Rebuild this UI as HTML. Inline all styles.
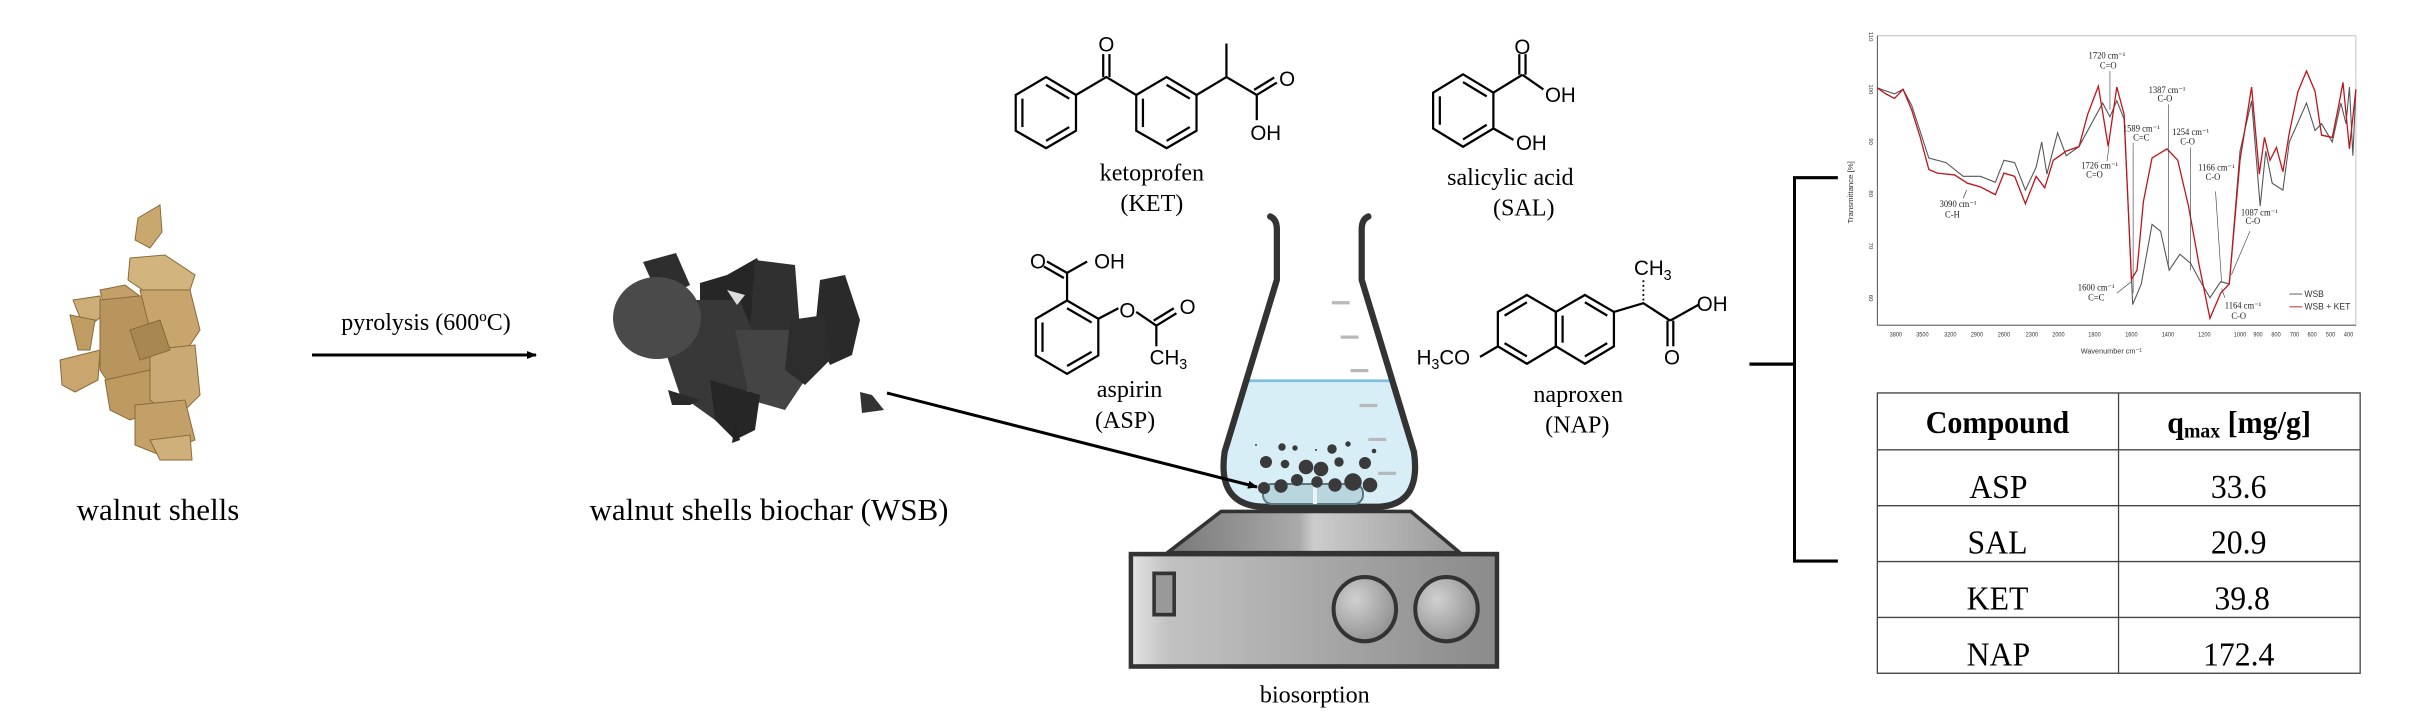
<!DOCTYPE html>
<html><head><meta charset="utf-8"><style>
html,body{margin:0;padding:0;background:#fff;}
svg{display:block;}
.s{font-family:"Liberation Serif",serif;}
.a{font-family:"Liberation Sans",sans-serif;}
</style></head><body>
<svg width="2410" height="720" viewBox="0 0 2410 720" xmlns="http://www.w3.org/2000/svg">
<defs>
<marker id="ah" markerWidth="10" markerHeight="10" refX="9" refY="5" orient="auto" markerUnits="userSpaceOnUse"><path d="M0,1 L10,5 L0,9 Z" fill="#000"/></marker>
<linearGradient id="gbox" x1="0" x2="1" y1="0" y2="0"><stop offset="0" stop-color="#e4e4e4"/><stop offset="0.1" stop-color="#c2c2c2"/><stop offset="1" stop-color="#8a8a8a"/></linearGradient>
<linearGradient id="gtop" x1="0" x2="1" y1="0" y2="0"><stop offset="0" stop-color="#777"/><stop offset="0.45" stop-color="#aaa"/><stop offset="0.5" stop-color="#ccc"/><stop offset="1" stop-color="#999"/></linearGradient>
<radialGradient id="gk" cx="0.35" cy="0.35" r="0.8"><stop offset="0" stop-color="#d0d0d0"/><stop offset="1" stop-color="#888"/></radialGradient>
</defs>

<!-- walnut shells -->
<g stroke="#8a6a3a" stroke-width="1">
<polygon points="138,218 160,205 162,232 150,248 135,240" fill="#c9a870"/>
<polygon points="130,258 165,255 195,275 190,290 150,295 128,280" fill="#d2b47e"/>
<polygon points="100,290 125,285 145,300 130,320 105,310" fill="#c4a068"/>
<polygon points="73,300 100,296 103,315 85,330" fill="#cdae78"/>
<polygon points="70,315 95,320 90,350 78,350" fill="#bf9c62"/>
<polygon points="60,360 100,350 98,380 75,392 62,385" fill="#c8a66e"/>
<polygon points="100,300 150,295 170,330 160,380 120,400 100,370" fill="#b8955c"/>
<polygon points="140,290 190,290 200,330 180,360 150,330" fill="#c7a56c"/>
<polygon points="105,380 150,370 160,410 130,420 110,410" fill="#bd9a60"/>
<polygon points="150,350 195,345 200,395 175,420 150,400" fill="#caa974"/>
<polygon points="135,405 185,400 195,440 160,455 135,445" fill="#c2a068"/>
<polygon points="150,440 190,435 192,460 160,460" fill="#cfb07a"/>
<polygon points="130,330 160,320 170,350 140,360" fill="#a88850"/>
</g>
<text class="s" x="158" y="520" font-size="31" text-anchor="middle">walnut shells</text>

<!-- pyrolysis arrow -->
<line x1="312" y1="355" x2="536" y2="355" stroke="#000" stroke-width="3" marker-end="url(#ah)"/>
<text class="s" x="426" y="330" font-size="24" text-anchor="middle">pyrolysis (600ºC)</text>

<!-- biochar -->
<g>
<polygon points="643,262 676,253 690,285 660,300" fill="#2e2e2e"/>
<polygon points="700,283 727,275 757,258 770,290 760,330 720,345 700,320" fill="#262626"/>
<polygon points="755,260 795,265 800,330 770,360 750,330" fill="#303030"/>
<polygon points="820,280 845,275 860,320 852,355 830,365 815,330" fill="#2a2a2a"/>
<polygon points="690,300 740,300 760,350 745,400 715,420 680,395 665,350" fill="#383838"/>
<polygon points="735,330 790,330 805,380 785,410 750,400" fill="#444"/>
<polygon points="790,320 825,315 830,360 805,385 785,370" fill="#2d2d2d"/>
<polygon points="710,380 760,395 755,430 735,440 715,420" fill="#262626"/>
<polygon points="668,390 700,400 690,405 672,405" fill="#2a2a2a"/>
<polygon points="735,423 740,440 732,443" fill="#222"/>
<ellipse cx="657" cy="318" rx="44" ry="41" fill="#4a4a4a"/>
<polygon points="727,290 745,295 737,305" fill="#ddd"/>
<polygon points="860,392 872,395 884,410 862,413" fill="#333"/>
</g>
<text class="s" x="769" y="520" font-size="31" text-anchor="middle">walnut shells biochar (WSB)</text>

<!-- middle region in zoom2 coords -->
<g transform="translate(980,0) scale(0.44643,0.4587)">
<g stroke="#000" stroke-width="5" fill="none">
<polygon points="148,168 215,207 215,285 148,323 80,285 80,207"/>
<line x1="148" y1="185" x2="200" y2="215"/><line x1="200" y1="277" x2="148" y2="307"/><line x1="95" y1="215" x2="95" y2="277"/>
<polyline points="215,207 283,168 350,207"/>
<line x1="276" y1="168" x2="276" y2="118"/><line x1="290" y1="168" x2="290" y2="118"/>
<polygon points="418,168 485,207 485,285 418,323 350,285 350,207"/>
<line x1="365" y1="215" x2="365" y2="277"/><line x1="418" y1="307" x2="470" y2="277"/><line x1="418" y1="185" x2="470" y2="215"/>
<polyline points="485,207 552,168 620,207"/>
<line x1="552" y1="168" x2="552" y2="95"/>
<line x1="620" y1="207" x2="665" y2="180"/><line x1="614" y1="196" x2="659" y2="169"/>
<line x1="620" y1="207" x2="620" y2="262"/>
<polygon points="1082,162 1150,202 1150,280 1082,320 1015,280 1015,202"/>
<line x1="1030" y1="210" x2="1030" y2="272"/><line x1="1082" y1="304" x2="1135" y2="272"/><line x1="1135" y1="210" x2="1082" y2="179"/>
<line x1="1150" y1="202" x2="1215" y2="163"/>
<line x1="1208" y1="163" x2="1208" y2="118"/><line x1="1222" y1="163" x2="1222" y2="118"/>
<line x1="1215" y1="163" x2="1262" y2="195"/>
<line x1="1150" y1="280" x2="1195" y2="305"/>
<polygon points="195,655 265,695 265,775 195,815 125,775 125,695"/>
<line x1="140" y1="703" x2="140" y2="767"/><line x1="195" y1="798" x2="250" y2="767"/><line x1="250" y1="703" x2="195" y2="672"/>
<line x1="195" y1="655" x2="195" y2="595"/>
<line x1="195" y1="595" x2="150" y2="570"/><line x1="188" y1="606" x2="143" y2="581"/>
<line x1="195" y1="595" x2="240" y2="570"/>
<line x1="265" y1="695" x2="310" y2="672"/>
<line x1="350" y1="680" x2="395" y2="710"/>
<line x1="395" y1="710" x2="440" y2="683"/><line x1="389" y1="699" x2="434" y2="672"/>
<line x1="395" y1="710" x2="395" y2="755"/>
<polygon points="1225,643 1290,680 1290,755 1225,793 1160,755 1160,680"/>
<polygon points="1355,643 1420,680 1420,755 1355,793 1290,755 1290,680"/>
<line x1="1175" y1="688" x2="1225" y2="659"/><line x1="1225" y1="777" x2="1175" y2="748"/>
<line x1="1355" y1="659" x2="1405" y2="688"/><line x1="1405" y1="748" x2="1355" y2="777"/><line x1="1305" y1="688" x2="1305" y2="747"/>
<line x1="1160" y1="755" x2="1120" y2="778"/>
<polyline points="1420,680 1486,661 1546,699"/>
<line x1="1546" y1="699" x2="1610" y2="664"/>
<line x1="1540" y1="699" x2="1540" y2="755"/><line x1="1553" y1="699" x2="1553" y2="755"/>
</g>
<line x1="1486" y1="655" x2="1486" y2="610" stroke="#000" stroke-width="4" stroke-dasharray="4 6"/>
<g class="a" font-size="46" fill="#000">
<text x="283" y="112" text-anchor="middle">O</text>
<text x="688" y="188" text-anchor="middle">O</text>
<text x="640" y="305" text-anchor="middle">OH</text>
<text x="1215" y="118" text-anchor="middle">O</text>
<text x="1300" y="222" text-anchor="middle">OH</text>
<text x="1235" y="327" text-anchor="middle">OH</text>
<text x="130" y="585" text-anchor="middle">O</text>
<text x="290" y="585" text-anchor="middle">OH</text>
<text x="330" y="692" text-anchor="middle">O</text>
<text x="465" y="685" text-anchor="middle">O</text>
<text x="380" y="795">CH<tspan font-size="32" dy="10">3</tspan></text>
<text x="978" y="795">H<tspan font-size="32" dy="10">3</tspan><tspan dy="-10">CO</tspan></text>
<text x="1465" y="600">CH<tspan font-size="32" dy="10">3</tspan></text>
<text x="1640" y="678" text-anchor="middle">OH</text>
<text x="1550" y="795" text-anchor="middle">O</text>
</g>
<g class="s" font-size="54" text-anchor="middle">
<text x="385" y="393">ketoprofen</text><text x="385" y="460">(KET)</text>
<text x="1188" y="403">salicylic acid</text><text x="1218" y="470">(SAL)</text>
<text x="335" y="866">aspirin</text><text x="325" y="933">(ASP)</text>
<text x="1340" y="876">naproxen</text><text x="1338" y="943">(NAP)</text>
<text x="750" y="1532">biosorption</text>
</g>
<path d="M598,828 L922,828 L968,985 Q985,1100 890,1103 L630,1103 Q535,1100 552,985 Z" fill="#d7eef6"/>
<line x1="598" y1="830" x2="922" y2="830" stroke="#7cc0da" stroke-width="6"/>
<g stroke="#b8b8b8" stroke-width="7">
<line x1="788" y1="660" x2="828" y2="660"/><line x1="808" y1="735" x2="848" y2="735"/><line x1="830" y1="808" x2="870" y2="808"/>
<line x1="850" y1="884" x2="890" y2="884"/><line x1="870" y1="958" x2="910" y2="958"/><line x1="892" y1="1032" x2="932" y2="1032"/>
</g>
<path d="M650,472 Q665,478 665,500 L665,610 L548,985 Q530,1105 640,1105 L885,1105 Q990,1105 972,985 L855,610 L855,500 Q855,478 870,472" fill="none" stroke="#333" stroke-width="14" stroke-linecap="round" stroke-linejoin="round"/>
<polygon points="540,1115 965,1115 1075,1205 420,1205" fill="url(#gtop)" stroke="#333" stroke-width="8" stroke-linejoin="round"/>
<rect x="338" y="1208" width="820" height="245" fill="url(#gbox)" stroke="#333" stroke-width="10"/>
<rect x="390" y="1250" width="45" height="90" fill="#999" stroke="#333" stroke-width="8"/>
<circle cx="862" cy="1328" r="70" fill="url(#gk)" stroke="#333" stroke-width="9"/>
<circle cx="1045" cy="1328" r="70" fill="url(#gk)" stroke="#333" stroke-width="9"/>
</g>

<!-- stir bar & particles -->
<rect x="1263" y="484" width="100" height="20" rx="9" fill="#b9d6de" stroke="#5a7880" stroke-width="2"/>
<line x1="1315" y1="484" x2="1315" y2="504" stroke="#e8f4f8" stroke-width="4"/>
<g fill="#3a3a3a" transform="translate(0,3)">
<circle cx="1256" cy="442" r="1"/><circle cx="1282" cy="444" r="3.7"/><circle cx="1295" cy="445" r="2.7"/><circle cx="1316" cy="447" r="1"/><circle cx="1332" cy="446" r="4.7"/><circle cx="1348" cy="441" r="2.7"/><circle cx="1374" cy="448" r="2.3"/>
<circle cx="1266" cy="459" r="6"/><circle cx="1285" cy="461" r="4.3"/><circle cx="1306" cy="464" r="7.3"/><circle cx="1321" cy="466" r="7.3"/><circle cx="1339" cy="459" r="4.7"/><circle cx="1365" cy="460" r="6"/>
<circle cx="1297" cy="477" r="6"/><circle cx="1317" cy="479" r="5.7"/><circle cx="1264" cy="485" r="6"/><circle cx="1281" cy="483" r="6.7"/><circle cx="1335" cy="482" r="6.7"/><circle cx="1353" cy="479" r="8.7"/><circle cx="1370" cy="482" r="7.3"/>
</g>
<line x1="887" y1="393" x2="1257" y2="487" stroke="#000" stroke-width="3" marker-end="url(#ah)"/>

<!-- right region in zoom3 coords -->
<g transform="translate(1740,0) scale(0.42918,0.458)">
<g stroke="#000" stroke-width="7" fill="none">
<polyline points="228,388 127,388 127,1225 228,1225"/>
<line x1="22" y1="795" x2="127" y2="795"/>
</g>
<rect x="320" y="78" width="1115" height="632" fill="none" stroke="#bbb" stroke-width="2"/>
<line x1="320" y1="78" x2="320" y2="710" stroke="#444" stroke-width="2"/>
<line x1="320" y1="710" x2="1435" y2="710" stroke="#444" stroke-width="2"/>
<g class="a" font-size="13" fill="#333" text-anchor="middle">
<text x="363" y="735">3800</text><text x="425" y="735">3500</text><text x="490" y="735">3200</text><text x="552" y="735">2900</text><text x="615" y="735">2600</text><text x="680" y="735">2300</text><text x="742" y="735">2000</text><text x="826" y="735">1800</text><text x="912" y="735">1600</text><text x="997" y="735">1400</text><text x="1082" y="735">1200</text><text x="1165" y="735">1000</text><text x="1207" y="735">900</text><text x="1249" y="735">800</text><text x="1292" y="735">700</text><text x="1333" y="735">600</text><text x="1376" y="735">500</text><text x="1418" y="735">400</text>
<text x="865" y="772" font-size="17">Wavenumber cm⁻¹</text>
<text transform="translate(300,80) rotate(90)">110</text><text transform="translate(300,195) rotate(90)">100</text><text transform="translate(300,309) rotate(90)">90</text><text transform="translate(300,423) rotate(90)">80</text><text transform="translate(300,537) rotate(90)">70</text><text transform="translate(300,651) rotate(90)">60</text>
<text transform="translate(263,420) rotate(-90)" font-size="17">Transmittance [%]</text>
</g>
<polyline fill="none" stroke="#555" stroke-width="2.5" points="320,192 360,205 380,195 400,230 440,345 480,355 520,385 560,385 595,398 615,350 640,355 665,415 690,365 703,310 715,380 740,290 760,340 790,320 845,225 862,255 878,220 895,260 915,665 935,620 960,490 980,505 1000,590 1025,555 1050,575 1070,610 1095,650 1120,615 1140,620 1165,330 1192,220 1212,450 1225,330 1240,400 1265,415 1280,310 1320,225 1340,285 1355,270 1380,310 1400,225 1412,270 1420,190 1428,340 1435,195"/>
<polyline fill="none" stroke="#c0141c" stroke-width="3" points="320,192 340,205 360,215 380,195 400,240 420,300 440,370 460,378 500,382 530,400 560,408 595,425 615,378 640,385 665,445 690,385 710,410 730,350 760,330 790,320 810,250 835,188 858,320 878,190 895,250 912,610 925,590 940,440 960,345 995,325 1020,350 1045,450 1070,580 1095,695 1120,640 1140,620 1165,350 1192,190 1210,380 1222,300 1235,350 1250,322 1265,375 1280,290 1300,200 1320,155 1340,200 1355,295 1380,300 1395,230 1405,180 1420,325 1435,195"/>
<g stroke="#444" stroke-width="1.5">
<line x1="862" y1="155" x2="862" y2="240"/><line x1="916" y1="312" x2="916" y2="640"/><line x1="998" y1="228" x2="998" y2="585"/><line x1="1050" y1="322" x2="1050" y2="590"/><line x1="1108" y1="418" x2="1122" y2="615"/><line x1="1188" y1="505" x2="1145" y2="600"/><line x1="878" y1="640" x2="912" y2="615"/><line x1="1130" y1="650" x2="1122" y2="630"/><line x1="520" y1="433" x2="528" y2="415"/><line x1="855" y1="352" x2="860" y2="320"/>
</g>
<g class="s" font-size="20" fill="#222" text-anchor="middle">
<text x="855" y="128">1720 cm⁻¹</text><text x="858" y="150">C=O</text>
<text x="995" y="203">1387 cm⁻¹</text><text x="990" y="222">C-O</text>
<text x="935" y="287">1589 cm⁻¹</text><text x="935" y="307">C=C</text>
<text x="1050" y="295">1254 cm⁻¹</text><text x="1043" y="316">C-O</text>
<text x="838" y="368">1726 cm⁻¹</text><text x="826" y="388">C=O</text>
<text x="1110" y="372">1166 cm⁻¹</text><text x="1102" y="393">C-O</text>
<text x="508" y="452">3090 cm⁻¹</text><text x="495" y="475">C-H</text>
<text x="1210" y="470">1087 cm⁻¹</text><text x="1195" y="489">C-O</text>
<text x="830" y="634">1600 cm⁻¹</text><text x="830" y="656">C=C</text>
<text x="1172" y="674">1164 cm⁻¹</text><text x="1162" y="696">C-O</text>
</g>
<line x1="1280" y1="642" x2="1310" y2="642" stroke="#555" stroke-width="2"/>
<line x1="1280" y1="670" x2="1310" y2="670" stroke="#c0141c" stroke-width="2"/>
<g class="a" font-size="20" fill="#333"><text x="1315" y="648">WSB</text><text x="1315" y="676">WSB + KET</text></g>
<g stroke="#444" stroke-width="3" fill="none">
<rect x="320" y="858" width="1125" height="612"/>
<line x1="882" y1="858" x2="882" y2="1470"/>
<line x1="320" y1="982" x2="1445" y2="982"/><line x1="320" y1="1104" x2="1445" y2="1104"/><line x1="320" y1="1226" x2="1445" y2="1226"/><line x1="320" y1="1348" x2="1445" y2="1348"/>
</g>
<g class="s" text-anchor="middle" fill="#000">
<text x="600" y="945" font-size="70" font-weight="bold">Compound</text>
<text x="1163" y="945" font-size="70" font-weight="bold">q<tspan font-size="46" dy="10">max</tspan><tspan dy="-10"> [mg/g]</tspan></text>
<g font-size="74">
<text x="602" y="1087">ASP</text><text x="1162" y="1087">33.6</text>
<text x="600" y="1209">SAL</text><text x="1162" y="1209">20.9</text>
<text x="600" y="1331">KET</text><text x="1170" y="1331">39.8</text>
<text x="602" y="1453">NAP</text><text x="1162" y="1453">172.4</text>
</g>
</g>
</g>
</svg>
</body></html>
